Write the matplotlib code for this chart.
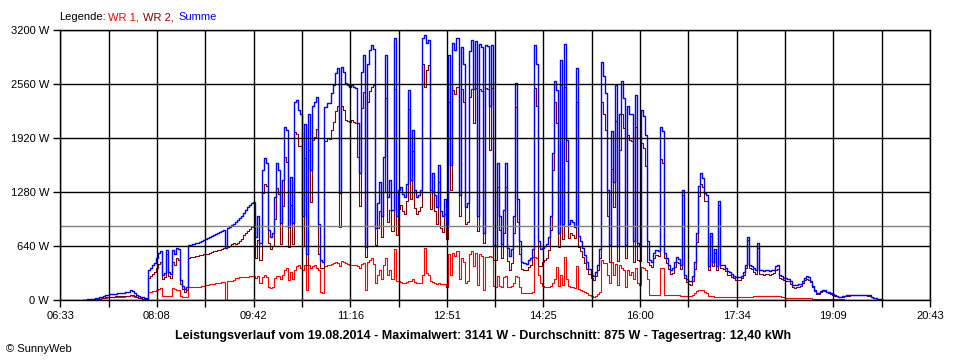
import numpy as np
import matplotlib
matplotlib.use("Agg")
import matplotlib.pyplot as plt

# first and last logged sample of the day
t_first = "06:55"
t_last = "19:57"

# WR 1 power in W, one value per logging step
wr1 = [
    0, 0, 3, 5, 6, 8, 10, 12, 15, 20, 22, 25, 30, 32, 35,
    35, 35, 36, 38, 38, 40, 42, 45, 55, 50, 40, 30, 22, 18, 15,
    12, 12, 100, 100, 105, 110, 120, 130, 140, 50, 45, 50, 45, 50, 140,
    130, 120, 120, 45, 35, 30, 35, 150, 150, 152, 155, 158, 160, 162, 165,
    178, 182, 186, 190, 195, 198, 202, 206, 210, 214, 0, 222, 225, 228, 232,
    262, 265, 268, 270, 272, 275, 278, 280, 285, 290, 255, 280, 200, 275, 300,
    270, 150, 145, 150, 260, 290, 280, 250, 300, 360, 380, 240, 330, 250, 360,
    400, 420, 380, 360, 410, 120, 420, 380, 400, 420, 380, 350, 90, 80, 400,
    410, 420, 430, 440, 450, 440, 400, 460, 450, 440, 430, 420, 415, 415, 410,
    400, 380, 430, 440, 120, 450, 480, 500, 430, 200, 300, 350, 250, 420, 500,
    300, 350, 250, 600, 220, 220, 210, 200, 200, 210, 230, 220, 250, 210, 205,
    200, 200, 300, 620, 320, 300, 220, 210, 200, 195, 200, 195, 190, 185, 150,
    550, 300, 560, 520, 580, 250, 500, 450, 200, 220, 540, 580, 400, 560, 180,
    540, 520, 120, 510, 510, 520, 510, 170, 160, 280, 165, 160, 270, 280, 160,
    160, 165, 200, 280, 270, 160, 80, 80, 80, 80, 80, 90, 510, 500, 300,
    200, 170, 160, 160, 160, 170, 200, 250, 390, 170, 300, 180, 510, 250, 170,
    160, 150, 140, 400, 130, 120, 110, 95, 80, 60, 45, 40, 50, 70, 100,
    475, 440, 435, 300, 200, 450, 300, 430, 180, 420, 380, 360, 150, 350, 300,
    330, 250, 380, 200, 180, 390, 380, 360, 250, 60, 60, 60, 60, 60, 380,
    380, 60, 58, 56, 55, 55, 55, 55, 55, 50, 50, 45, 42, 42, 45,
    55, 80, 110, 120, 120, 115, 100, 80, 50, 45, 42, 40, 40, 40, 40,
    40, 40, 38, 38, 36, 35, 35, 35, 35, 35, 35, 35, 35, 35, 35,
    48, 48, 48, 47, 47, 47, 47, 46, 46, 46, 45, 45, 45, 42, 35,
    30, 28, 28, 28, 28, 28, 28, 28, 28, 28, 28, 28, 28, 20, 12,
    12, 10, 10, 10, 10, 10, 10, 10, 10, 10, 8, 8, 8, 6, 6,
    5, 5, 5, 5, 5, 5, 5, 5, 5, 5, 5, 5, 4, 3, 3,
    2, 2, 1, 1, 0,
]

# WR 2 power in W
wr2 = [
    0, 0, 3, 5, 6, 8, 10, 12, 15, 20, 22, 30, 35, 38, 40,
    40, 42, 42, 44, 45, 45, 48, 50, 65, 55, 45, 35, 25, 18, 15,
    13, 13, 255, 280, 305, 330, 380, 430, 445, 250, 275, 540, 285, 260, 450,
    420, 500, 480, 195, 135, 100, 115, 500, 505, 513, 520, 522, 530, 538, 545,
    540, 548, 556, 565, 575, 585, 592, 598, 605, 612, 620, 630, 645, 660, 672,
    660, 680, 700, 720, 765, 790, 820, 845, 860, 875, 495, 710, 470, 1265, 1380,
    1350, 680, 605, 640, 965, 1330, 1260, 660, 1120, 1690, 1635, 630, 1130, 660, 1990,
    1970, 1830, 1830, 640, 1680, 420, 1780, 1160, 1900, 1930, 2030, 550, 385, 375, 1890,
    1920, 1910, 2020, 2110, 2235, 2305, 865, 2305, 2255, 2130, 2120, 2110, 2135, 2115, 2100,
    1700, 1120, 2270, 2460, 510, 2350, 2480, 2520, 2550, 650, 850, 1050, 750, 1280, 2400,
    925, 1070, 815, 2500, 770, 1080, 1130, 1060, 1025, 1170, 2260, 1200, 1765, 1090, 1020,
    1050, 1100, 2800, 2520, 2730, 2780, 1080, 1290, 1050, 905, 1400, 855, 810, 1015, 720,
    2350, 1300, 2490, 2440, 2520, 1000, 2500, 2350, 900, 930, 2410, 2500, 2100, 2510, 820,
    2500, 2480, 670, 2510, 2500, 1780, 2510, 480, 480, 1340, 835, 500, 795, 1340, 460,
    360, 435, 800, 2290, 930, 540, 370, 360, 350, 390, 420, 510, 2510, 2300, 400,
    400, 450, 480, 500, 590, 830, 1540, 2350, 2100, 630, 2545, 720, 2530, 1650, 730,
    790, 770, 730, 2345, 630, 580, 510, 435, 370, 310, 255, 240, 280, 350, 500,
    2350, 2210, 2015, 1000, 450, 1550, 1100, 2120, 460, 1780, 2210, 2040, 500, 1950, 1900,
    1880, 450, 2050, 470, 460, 1860, 1800, 1590, 450, 410, 390, 500, 530, 520, 1670,
    1620, 500, 442, 364, 305, 325, 395, 455, 435, 370, 1250, 255, 208, 188, 175,
    225, 370, 690, 1230, 1380, 1335, 1170, 1170, 350, 755, 408, 560, 360, 1130, 380,
    370, 340, 302, 292, 274, 255, 240, 235, 240, 255, 295, 385, 715, 385, 365,
    332, 312, 622, 308, 303, 298, 308, 304, 299, 304, 315, 355, 370, 258, 245,
    235, 227, 222, 192, 152, 147, 152, 157, 167, 202, 237, 252, 242, 210, 158,
    108, 75, 70, 100, 110, 105, 90, 85, 75, 65, 52, 42, 32, 34, 39,
    45, 50, 53, 55, 57, 57, 57, 55, 55, 57, 55, 53, 51, 32, 22,
    18, 13, 9, 4, 0,
]

x_labels = ['06:33', '08:08', '09:42', '11:16', '12:51', '14:25', '16:00', '17:34', '19:09', '20:43']
y_ticks = [0, 640, 1280, 1920, 2560, 3200]
average = 875  # Durchschnitt

title = ("Leistungsverlauf vom 19.08.2014 - Maximalwert: 3141 W - "
         "Durchschnitt: 875 W - Tagesertrag: 12,40 kWh")


def to_min(s):
    h, m = s.split(":")
    return int(h) * 60 + int(m)


wr1 = np.array(wr1)
wr2 = np.array(wr2)
summe = wr1 + wr2
t = np.linspace(to_min(t_first), to_min(t_last), len(wr1))

plt.rcParams['font.family'] = ['Liberation Sans', 'DejaVu Sans']

fig = plt.figure(figsize=(9.6, 3.6), dpi=100)
ax = fig.add_axes([60.3 / 960, 60 / 360, 869.7 / 960, 270 / 360])

ax.plot(t, wr1, color='#ff0000', lw=0.8, drawstyle='steps-post', zorder=2)
ax.plot(t, wr2, color='#800000', lw=0.8, drawstyle='steps-post', zorder=2.05)
ax.plot(t, summe, color='#0000ff', lw=1.0, drawstyle='steps-post', zorder=2.1)
ax.axhline(average, color='#808080', lw=1, zorder=2.2)

x0, x1 = to_min(x_labels[0]), to_min(x_labels[-1])
major = np.linspace(x0, x1, len(x_labels))
minor = (major[:-1] + major[1:]) / 2
ax.set_xlim(x0, x1)
ax.set_ylim(0, 3200)
ax.set_xticks(major)
ax.set_xticklabels(x_labels)
ax.set_xticks(minor, minor=True)
ax.set_yticks(y_ticks)
ax.set_yticklabels([f"{v} W" for v in y_ticks])

ax.set_axisbelow(False)
ax.grid(True, which='both', axis='x', color='black', lw=1)
ax.grid(True, which='major', axis='y', color='black', lw=1)
ax.tick_params(which='both', direction='out', length=5, width=1, labelsize=8, pad=3, color='black')
for s in ax.spines.values():
    s.set_linewidth(1)
    s.set_color('black')

# legend line on top
ytop = 1 - 17 / 360
fig.text(59 / 960, ytop, "Legende:", fontsize=8, va='center')
fig.text(108.5 / 960, ytop, "WR 1,", fontsize=8, va='center', color='#ff0000')
fig.text(143 / 960, ytop, "WR 2,", fontsize=8, va='center', color='#800000')
fig.text(178 / 960, ytop, "Summe", fontsize=8, va='center', color='#0000ff')

fig.text(483 / 960, 1 - 336 / 360, title, fontsize=9, fontweight='bold', ha='center', va='center')
fig.text(6 / 960, 1 - 349 / 360, "\u00a9 SunnyWeb", fontsize=8, va='center')

fig.savefig("out.png", dpi=100)
